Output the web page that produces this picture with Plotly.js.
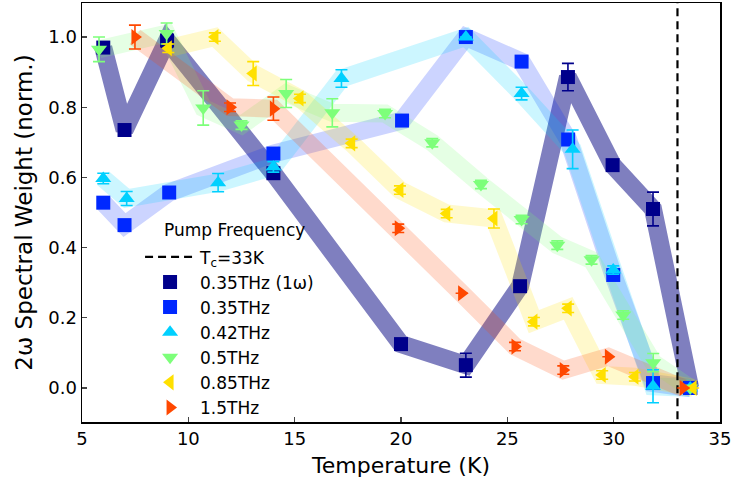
<!DOCTYPE html>
<html>
<head>
<meta charset="utf-8">
<script src="https://cdn.plot.ly/plotly-3.0.1.min.js"></script>
<style>html,body{margin:0;padding:0;background:#fff;}#chart{width:732px;height:484px;}</style>
</head>
<body>
<div id="chart"></div>
<script>
// Series names
var names = ["0.35THz (1\u03c9)", "0.35THz", "0.42THz", "0.5THz", "0.85THz", "1.5THz"];
// 0.35THz (1w)
var T_a = [6.0, 7.0, 9.0, 14.0, 20.0, 23.05, 25.6, 27.85, 29.95, 31.85, 33.6];
var W_a = [0.97, 0.735, 0.99, 0.612, 0.125, 0.065, 0.29, 0.886, 0.635, 0.51, 0.0];
var E_a = [0.01, 0, 0.02, 0.01, 0, 0.034, 0, 0.039, 0, 0.048, 0];
// 0.35THz
var T_b = [6.0, 7.0, 9.1, 14.0, 20.05, 23.05, 25.67, 27.86, 29.98, 31.85, 33.6];
var W_b = [0.528, 0.464, 0.557, 0.668, 0.762, 1.0, 0.93, 0.708, 0.322, 0.014, 0.0];
var E_b = [0, 0, 0, 0, 0, 0, 0, 0, 0, 0, 0];
// 0.42THz
var T_c = [6.0, 7.1, 11.4, 14.0, 17.2, 23.05, 25.67, 28.07, 29.98, 31.85, 33.6];
var W_c = [0.597, 0.54, 0.585, 0.63, 0.882, 1.0, 0.839, 0.68, 0.336, 0.005, 0.0];
var E_c = [0.015, 0.02, 0.026, 0.015, 0.025, 0, 0.018, 0.055, 0.012, 0.047, 0];
// 0.5THz
var T_d = [5.8, 8.98, 10.7, 12.5, 14.6, 16.77, 19.25, 21.47, 23.76, 25.67, 27.35, 28.96, 30.45, 31.86, 33.6];
var W_d = [0.965, 1.01, 0.798, 0.749, 0.839, 0.784, 0.782, 0.699, 0.58, 0.48, 0.407, 0.365, 0.208, 0.072, 0.0];
var E_d = [0.035, 0.03, 0.049, 0.012, 0.04, 0.04, 0.012, 0.012, 0.012, 0.012, 0.012, 0.012, 0.012, 0.026, 0];
// 0.85THz
var T_e = [9.06, 11.25, 13.05, 15.25, 17.68, 19.95, 22.15, 24.37, 26.25, 27.86, 29.46, 31.0, 33.74];
var W_e = [0.968, 1.0, 0.896, 0.825, 0.697, 0.564, 0.497, 0.483, 0.189, 0.227, 0.037, 0.032, 0.0];
var E_e = [0.012, 0.012, 0.034, 0.012, 0.012, 0.012, 0.012, 0.027, 0.012, 0.012, 0.012, 0.012, 0];
// 1.5THz
var T_f = [7.49, 11.96, 14.0, 19.87, 22.85, 25.36, 27.63, 29.75, 33.27];
var W_f = [1.0, 0.80, 0.796, 0.455, 0.27, 0.118, 0.051, 0.089, 0.0];
var E_f = [0.034, 0.012, 0.033, 0.012, 0, 0.012, 0.012, 0, 0];
var Tc = 33;
var xTicks = [5, 10, 15, 20, 25, 30, 35];
var yTicks = [0.0, 0.2, 0.4, 0.6, 0.8, 1.0];
var yTickText = ["0.0", "0.2", "0.4", "0.6", "0.8", "1.0"];

var colors = ["#00008B", "#0028FF", "#00D0FF", "#7DFF7A", "#FFE000", "#FF4800"];
var lineColors = ["rgba(0,0,128,0.5)", "rgba(0,40,255,0.2)", "rgba(0,208,255,0.2)",
                  "rgba(125,255,122,0.2)", "rgba(255,224,0,0.2)", "rgba(255,72,0,0.2)"];
var symbols = ["square", "square", "triangle-up", "triangle-down", "triangle-left", "triangle-right"];
var Ts = [T_a, T_b, T_c, T_d, T_e, T_f];
var Ws = [W_a, W_b, W_c, W_d, W_e, W_f];
var Es = [E_a, E_b, E_c, E_d, E_e, E_f];

var traces = [];
for (var i = 0; i < 6; i++) {
  traces.push({x: Ts[i], y: Ws[i], mode: "lines", type: "scatter", showlegend: false,
    hoverinfo: "skip", line: {color: lineColors[i], width: 18}});
}
traces.push({x: [Tc, Tc], y: [-0.2, 1.2], mode: "lines", type: "scatter", name: "T<sub>c</sub>=33K",
  line: {color: "black", width: 2.2, dash: "8px,5px"}});
for (var j = 0; j < 6; j++) {
  traces.push({x: Ts[j], y: Ws[j], mode: "markers", type: "scatter", name: names[j],
    marker: {symbol: symbols[j], color: colors[j], size: 14, line: {width: 0}},
    error_y: {type: "data", array: Es[j], visible: true, color: colors[j], thickness: 1.6, width: 6}});
}

var layout = {
  width: 732, height: 484,
  margin: {l: 82, r: 12, t: 3, b: 62},
  paper_bgcolor: "#fff", plot_bgcolor: "#fff",
  font: {family: "DejaVu Sans", color: "#000", size: 17},
  showlegend: true,
  legend: {x: 0.091, y: 0.436, xanchor: "left", yanchor: "top", bgcolor: "rgba(0,0,0,0)",
    itemwidth: 50, font: {size: 17}, traceorder: "normal"},
  annotations: [{text: "Pump Frequency", xref: "paper", yref: "paper", x: 0.126, y: 0.43,
    xanchor: "left", yanchor: "bottom", showarrow: false, font: {size: 17}}],
  xaxis: {range: [5, 35], tickvals: xTicks, ticks: "inside", ticklen: 5, tickwidth: 1.2,
    showline: true, linewidth: 1.5, linecolor: "#000", mirror: true, showgrid: false, zeroline: false,
    tickfont: {size: 18},
    title: {text: "Temperature (K)", font: {size: 22}, standoff: 9}},
  yaxis: {range: [-0.097, 1.097], tickvals: yTicks, ticktext: yTickText, ticks: "inside", ticklen: 5, tickwidth: 1.2,
    showline: true, linewidth: 1.5, linecolor: "#000", mirror: true, showgrid: false, zeroline: false,
    tickfont: {size: 18},
    title: {text: "2\u03c9 Spectral Weight (norm.)", font: {size: 23}, standoff: 9}}
};
Plotly.newPlot("chart", traces, layout, {displayModeBar: false, staticPlot: true});
</script>
</body>
</html>
